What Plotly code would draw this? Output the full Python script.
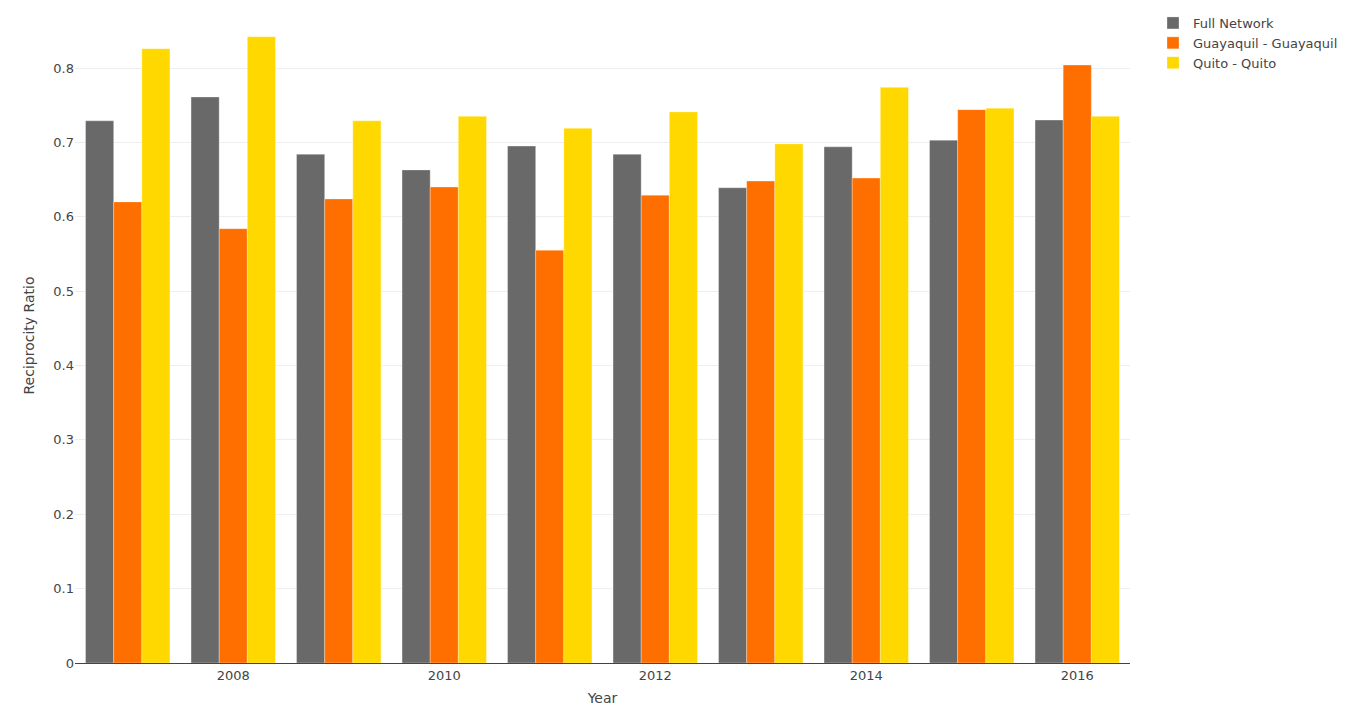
import plotly.graph_objects as go

years = [2007, 2008, 2009, 2010, 2011, 2012, 2013, 2014, 2015, 2016]
full_network = [0.729, 0.761, 0.684, 0.663, 0.695, 0.684, 0.639, 0.694, 0.703, 0.730]
guayaquil = [0.620, 0.584, 0.624, 0.640, 0.555, 0.629, 0.648, 0.652, 0.744, 0.804]
quito = [0.826, 0.842, 0.729, 0.735, 0.719, 0.741, 0.698, 0.774, 0.746, 0.735]

series = [
    ("Full Network", full_network, "#696969"),
    ("Guayaquil - Guayaquil", guayaquil, "#FF6F00"),
    ("Quito - Quito", quito, "#FFD800"),
]

fig = go.Figure()
for name, vals, color in series:
    fig.add_trace(go.Bar(
        x=years, y=vals, name=name,
        marker=dict(color=color, line=dict(color="rgba(255,255,255,0.5)", width=0.6)),
    ))

fig.update_layout(
    width=1335, height=698,
    barmode="group", bargap=0.2, bargroupgap=0,
    plot_bgcolor="white", paper_bgcolor="white",
    margin=dict(l=67, r=213, t=0, b=43),
    font=dict(family="DejaVu Sans, Verdana, sans-serif", size=13, color="#444"),
    xaxis=dict(
        title=dict(text="Year", font=dict(size=14), standoff=13),
        dtick=2, tick0=2008, showgrid=False, showline=True, linecolor="#444",
        linewidth=1, ticks="", range=[2006.5, 2016.5],
    ),
    yaxis=dict(
        title=dict(text="Reciprocity Ratio", font=dict(size=14)),
        range=[0, 0.8807], dtick=0.1, showgrid=True, gridcolor="#eee",
        zeroline=False,
    ),
    legend=dict(x=1.022, y=1, font=dict(size=13)),
)

fig.write_html("out.html")
